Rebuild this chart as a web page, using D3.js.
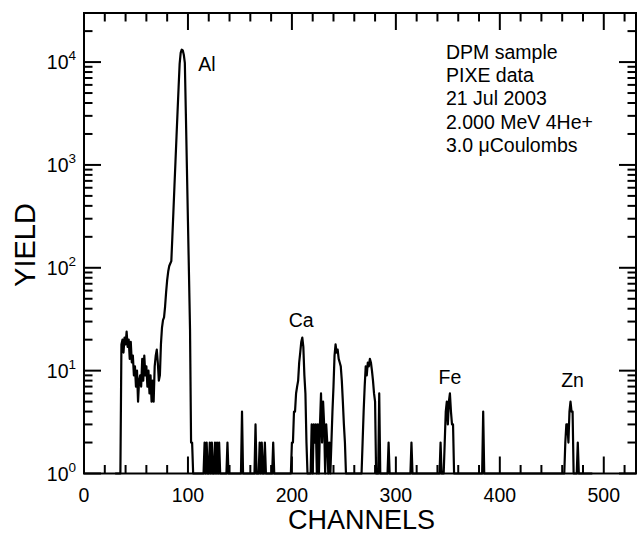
<!DOCTYPE html>
<html>
<head>
<meta charset="utf-8">
<script src="https://d3js.org/d3.v7.min.js"></script>
<style>
body { margin: 0; background: #fff; }
svg { font-family: "Liberation Sans", Arial, sans-serif; }
</style>
</head>
<body>
<svg id="drawing_region"></svg>
<script>
// PIXE spectrum, counts per channel starting at first_channel
const first_channel = 30;
const counts = [
    0,0,0,0,0,0,18,20,15,21,            // 30
    18,24,17,20,13,19,12,14,9,11,       // 40
    7,10,5,8,9,7,13,8,14,9,             // 50
    11,7,10,6,9,5,8,5,11,14,            // 60
    16,12,8,9,18,26,31,33,42,58,        // 70
    76,92,104,110,116,200,350,620,1080,1900,          // 80
    3300,5700,9600,12300,13200,13000,11800,9800,3100,930, // 90
    280,85,25,2,2,0,0,0,0,0,            // 100
    0,0,0,0,0,0,2,0,2,0,                // 110
    0,2,0,2,0,0,2,0,2,0,                // 120
    2,0,0,0,0,0,0,0,2,0,                // 130
    0,0,0,0,0,0,0,0,0,0,                // 140
    0,0,4,0,0,0,0,0,0,0,                // 150
    0,0,0,0,0,3,0,0,0,2,                // 160
    0,2,0,0,2,0,0,0,0,0,                // 170
    0,0,2,0,0,0,0,0,0,0,                // 180
    0,0,0,0,0,0,0,0,0,0,                // 190
    2,2,4,4,6,7,8,12,15,19,             // 200
    21,17,9,6,2,0,0,0,1,3,              // 210
    0,3,2,3,0,3,1,3,6,2,                // 220
    5,3,0,3,2,0,2,1,2,4,                // 230
    7,14,18,15,16,13,12,11,8,5,         // 240
    3,2,1,0,0,0,0,0,0,0,                // 250
    0,0,0,0,0,0,0,1,2,4,                // 260
    7,11,9,12,11,13,12,10,8,6,          // 270
    5,1,0,0,6,0,0,0,0,0,                // 280
    0,0,0,2,0,0,0,0,0,0,                // 290
    0,0,0,0,0,0,0,0,0,0,                // 300
    0,0,0,0,0,2,0,0,0,0,                // 310
    0,0,0,0,0,0,0,0,0,0,                // 320
    0,0,0,0,0,0,0,0,0,0,                // 330
    0,0,0,2,0,0,0,2,4,5,                // 340
    3,5,6,4,3,3,0,0,0,0,                // 350
    0,0,0,0,0,0,0,0,0,0,                // 360
    0,0,0,0,0,0,0,0,0,0,                // 370
    0,0,0,0,4,0,0,0,0,0,                // 380
    0,0,0,0,0,0,0,0,0,0,                // 390
    0,0,0,0,0,0,0,0,0,0,                // 400
    0,0,0,0,0,0,0,0,0,0,                // 410
    0,0,0,0,0,0,0,0,0,0,                // 420
    0,0,0,0,0,0,0,0,0,0,                // 430
    0,0,0,0,0,0,0,0,0,0,                // 440
    0,0,0,0,0,0,0,0,0,0,                // 450
    0,0,0,2,3,3,2,4,5,4,                // 460
    4,1,0,0,0,2,0,0,0,0,                // 470
    0,0,0,0,0,0,0,0,0,0                 // 480
];

const x_ticks = [0, 100, 200, 300, 400, 500];
const y_decades = [0, 1, 2, 3, 4];

const peak_labels = ['Al', 'Ca', 'Fe', 'Zn'];
const peak_channels = [110, 197, 341, 459];
const peak_yields = [8100, 26.7, 7.4, 6.9];

const info_lines = ['DPM sample', 'PIXE data', '21 Jul 2003', '2.000 MeV 4He+', '3.0 \u03bcCoulombs'];

const data = counts.map((c, i) => ({channel: first_channel + i, count: c}));

class SpectrumChart {

    constructor( config, data ) {
        this.config = {
            parent: config.parent,
            width: config.width || 639,
            height: config.height || 535,
            margin: config.margin || {top:13, right:3, bottom:61.5, left:84}
        }
        this.data = data;
        this.init();
    }

    init() {
        let self = this;

        self.svg = d3.select( self.config.parent )
            .attr('width', self.config.width)
            .attr('height', self.config.height);

        self.chart = self.svg.append('g')
            .attr('transform', `translate(${self.config.margin.left}, ${self.config.margin.top})`);

        self.inner_width = self.config.width - self.config.margin.left - self.config.margin.right;
        self.inner_height = self.config.height - self.config.margin.top - self.config.margin.bottom;

        self.xscale = d3.scaleLinear()
            .domain( [0, 531] )
            .range( [0, self.inner_width] );

        self.yscale = d3.scaleLog()
            .domain( [1, 30000] )
            .range( [self.inner_height, 0] );

        self.x_minor = d3.range(20, 531, 20).filter(d => d % 100 != 0);
        self.y_minor = [];
        y_decades.forEach(k => {
            d3.range(2, 10).forEach(m => {
                const v = m * Math.pow(10, k);
                if (v < 30000) self.y_minor.push(v);
            });
        });
    }

    update() {
        let self = this;
        self.render();
    }

    render() {
        let self = this;
        const W = self.inner_width, H = self.inner_height;

        // inward ticks on all four sides
        const major = 17, minor = 8.5;
        const tick_g = self.chart.append('g')
            .attr('stroke', '#000')
            .attr('stroke-width', 2);

        const xt = x_ticks.map(v => ({v: v, len: major})).concat(self.x_minor.map(v => ({v: v, len: minor})));
        tick_g.selectAll('.xb').data(xt).enter().append('line')
            .attr('x1', d => self.xscale(d.v)).attr('x2', d => self.xscale(d.v))
            .attr('y1', H).attr('y2', d => H - d.len);
        tick_g.selectAll('.xt').data(xt).enter().append('line')
            .attr('x1', d => self.xscale(d.v)).attr('x2', d => self.xscale(d.v))
            .attr('y1', 0).attr('y2', d => d.len);

        const yt = y_decades.map(k => ({v: Math.pow(10, k), len: major})).concat(self.y_minor.map(v => ({v: v, len: minor})));
        tick_g.selectAll('.yl').data(yt).enter().append('line')
            .attr('y1', d => self.yscale(d.v)).attr('y2', d => self.yscale(d.v))
            .attr('x1', 0).attr('x2', d => d.len);
        tick_g.selectAll('.yr').data(yt).enter().append('line')
            .attr('y1', d => self.yscale(d.v)).attr('y2', d => self.yscale(d.v))
            .attr('x1', W).attr('x2', d => W - d.len);

        // spectrum
        const line = d3.line()
            .x(d => self.xscale(d.channel))
            .y(d => self.yscale(Math.max(d.count, 1)));

        self.chart.append('path')
            .datum(self.data)
            .attr('d', line)
            .attr('fill', 'none')
            .attr('stroke', '#000')
            .attr('stroke-width', 2.2)
            .attr('stroke-linejoin', 'round');

        // frame
        self.chart.append('rect')
            .attr('x', 0).attr('y', 0)
            .attr('width', W).attr('height', H)
            .attr('fill', 'none')
            .attr('stroke', '#000')
            .attr('stroke-width', 2);

        // x tick labels
        self.chart.selectAll('.xlab').data(x_ticks).enter().append('text')
            .attr('x', d => self.xscale(d))
            .attr('y', H + 28.5)
            .attr('text-anchor', 'middle')
            .attr('font-size', 19.5)
            .text(d => d);

        // y tick labels 10^k
        const ylab = self.chart.selectAll('.ylab').data(y_decades).enter().append('text')
            .attr('x', -8)
            .attr('y', d => self.yscale(Math.pow(10, d)) + 7)
            .attr('text-anchor', 'end')
            .attr('font-size', 19.5);
        ylab.append('tspan').text('10');
        ylab.append('tspan')
            .attr('dy', -9)
            .attr('font-size', 13.5)
            .text(d => d);

        // axis titles
        self.svg.append('text')
            .attr('x', self.config.margin.left + self.xscale(267))
            .attr('y', 529)
            .attr('text-anchor', 'middle')
            .attr('font-size', 27)
            .text('CHANNELS');

        self.svg.append('text')
            .attr('transform', `translate(35, 245) rotate(-90)`)
            .attr('text-anchor', 'middle')
            .attr('font-size', 29)
            .text('YIELD');

        // peak labels
        self.chart.selectAll('.peak').data(peak_labels).enter().append('text')
            .attr('x', (d, i) => self.xscale(peak_channels[i]))
            .attr('y', (d, i) => self.yscale(peak_yields[i]))
            .attr('font-size', 19.5)
            .text(d => d);

        // info block
        self.svg.selectAll('.info').data(info_lines).enter().append('text')
            .attr('x', 446)
            .attr('y', (d, i) => 58.5 + i * 23.4)
            .attr('font-size', 19.5)
            .text(d => d);
    }
}

var config = {
    parent: '#drawing_region',
    width: 639,
    height: 535,
    margin: {top:13, right:3, bottom:61.5, left:84}
};

const chart = new SpectrumChart( config, data );
chart.update();
</script>
</body>
</html>
